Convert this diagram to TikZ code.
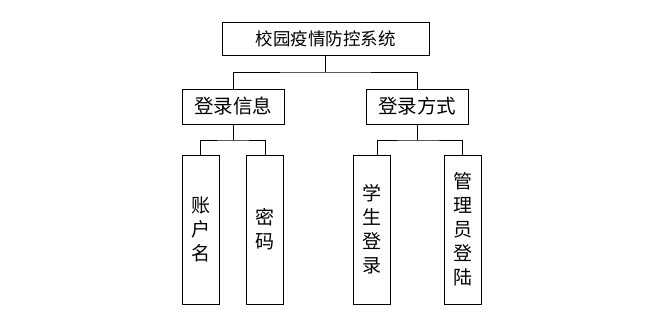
\documentclass[tikz,border=0pt]{standalone}
\usepackage{fontspec}
\newfontfamily\cjk{Noto Sans CJK SC}
\begin{document}
\begin{tikzpicture}[x=1pt,y=-1pt,
  box/.style={draw,line width=0.8pt,inner sep=0pt,align=center},
  topbox/.style={box,minimum width=207pt,minimum height=33pt,font=\cjk\fontsize{17.5}{20}\selectfont},
  midbox/.style={box,minimum width=102pt,minimum height=35pt,font=\cjk\fontsize{19.5}{22}\selectfont},
  leafbox/.style={box,minimum width=37pt,minimum height=149pt,font=\cjk\fontsize{19}{24}\selectfont},
  conn/.style={draw,line width=0.8pt}]
\useasboundingbox (0,0) rectangle (656,320);
\node[topbox] (top) at (325.5,38.5) {校园疫情防控系统};
\node[midbox] (l1) at (233,106.5) {登录信息};
\node[midbox] (l2) at (417,106.5) {登录方式};
\node[leafbox] (a) at (200.5,229.5) {账\\户\\名};
\node[leafbox] (b) at (265,229.5) {密\\码};
\node[leafbox] (c) at (371.5,229.5) {学\\生\\登\\录};
\node[leafbox] (d) at (462.5,229.5) {管\\理\\员\\登\\陆};
\coordinate (j0) at (325.5,72);
\coordinate (ja) at (233,140);
\coordinate (jb) at (417,140);
\path[conn] (top.south) -- (j0);
\path[conn] (l1.north) |- (j0) -| (l2.north);
\path[conn] (l1.south) -- (ja);
\path[conn] (a.north) |- (ja) -| (b.north);
\path[conn] (l2.south) -- (jb);
\path[conn] ([xshift=5.5pt]c.north) |- (jb) -| (d.north);
\end{tikzpicture}
\end{document}
